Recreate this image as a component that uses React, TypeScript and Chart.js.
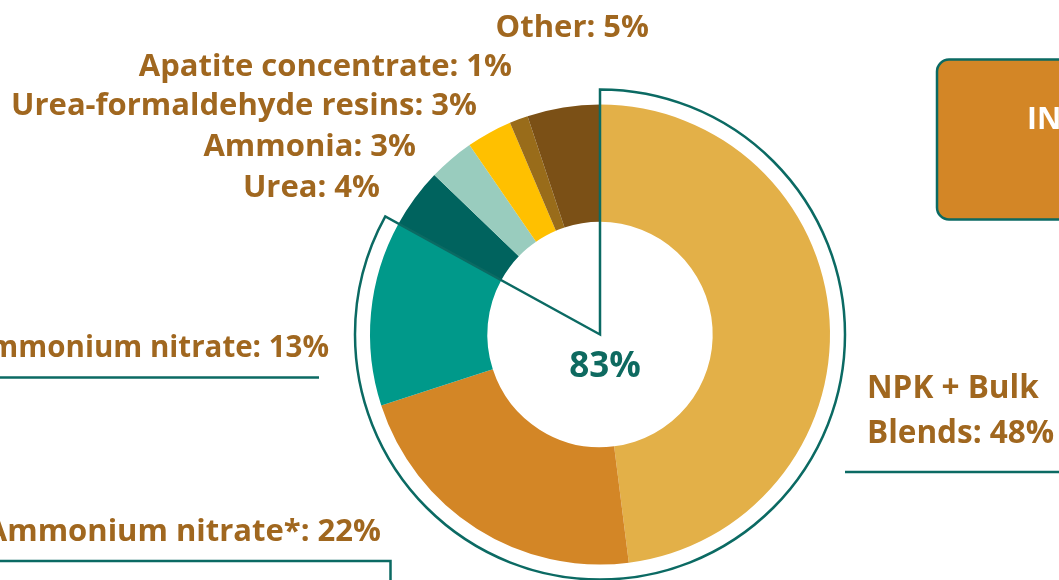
import React, { useEffect, useRef } from "react";
import { Chart, registerables } from "chart.js";

Chart.register(...registerables);

// ---- data ----
const categories = [
  "NPK + Bulk Blends",
  "Ammonium nitrate*",
  "Ammonium nitrate",
  "Urea",
  "Ammonia",
  "Urea-formaldehyde resins",
  "Apatite concentrate",
  "Other",
];
const shares = [48, 22, 13, 4.2, 3.2, 3.2, 1.3, 5.1];
const shareLabels = ["48%", "22%", "13%", "4%", "3%", "3%", "1%", "5%"];
const highlightCount = 3; // NPK + both ammonium nitrates
const centreLabel = "83%";
const boxLabel = "INDUSTRY";

// ---- style ----
const sliceColors = ["#E3B048", "#D38626", "#00998A", "#00635E", "#99CCBE", "#FFC000", "#996C1A", "#7B5016"];
const TEAL = "#0B6A63";
const BROWN = "#A0671F";
const FONT = "'Open Sans', Lato, sans-serif";

// label anchors (x, y baseline, alignment, font size)
const labelLayout = [
  { x: 867, y: 398, align: "left", size: 31.5, wrap: 3, lineGap: 45 },
  { x: 381, y: 541, align: "right", size: 31 },
  { x: 329, y: 357, align: "right", size: 29.5 },
  { x: 380, y: 197, align: "right", size: 31 },
  { x: 416, y: 156, align: "right", size: 31 },
  { x: 477, y: 115, align: "right", size: 31 },
  { x: 512, y: 76, align: "right", size: 31 },
  { x: 649, y: 37, align: "right", size: 31 },
];

const overlayPlugin = {
  id: "overlay",
  afterDatasetsDraw(chart: any) {
    const ctx: CanvasRenderingContext2D = chart.ctx;
    const arcs = chart.getDatasetMeta(0).data as any[];
    const first = arcs[0];
    const cx = first.x;
    const cy = first.y;
    const R = first.outerRadius + 15;
    const start = first.startAngle;
    const end = arcs[highlightCount - 1].endAngle;

    ctx.save();
    // highlighted wedge outline
    ctx.strokeStyle = TEAL;
    ctx.lineWidth = 2.5;
    ctx.lineJoin = "miter";
    ctx.beginPath();
    ctx.moveTo(cx, cy);
    ctx.arc(cx, cy, R, start, end);
    ctx.closePath();
    ctx.stroke();

    // centre label
    ctx.fillStyle = "#0E6A60";
    ctx.font = `bold 35px ${FONT}`;
    ctx.textAlign = "center";
    ctx.textBaseline = "alphabetic";
    ctx.fillText(centreLabel, cx + 5, cy + 42.5);

    // decorative leader lines
    ctx.lineWidth = 2.5;
    ctx.beginPath();
    ctx.moveTo(0, 377.5);
    ctx.lineTo(319, 377.5);
    ctx.stroke();
    ctx.beginPath();
    ctx.moveTo(0, 561);
    ctx.lineTo(390.5, 561);
    ctx.lineTo(390.5, 585);
    ctx.stroke();
    ctx.beginPath();
    ctx.moveTo(845, 472);
    ctx.lineTo(1065, 472);
    ctx.stroke();

    // top-right box
    const bx = 937, by = 59.5, bw = 220, bh = 160, r = 12;
    ctx.beginPath();
    ctx.moveTo(bx + r, by);
    ctx.lineTo(bx + bw, by);
    ctx.lineTo(bx + bw, by + bh);
    ctx.lineTo(bx + r, by + bh);
    ctx.arcTo(bx, by + bh, bx, by + bh - r, r);
    ctx.lineTo(bx, by + r);
    ctx.arcTo(bx, by, bx + r, by, r);
    ctx.closePath();
    ctx.fillStyle = "#D38626";
    ctx.fill();
    ctx.stroke();
    ctx.fillStyle = "#FFFFFF";
    ctx.font = `bold 30px ${FONT}`;
    ctx.textAlign = "left";
    ctx.fillText(boxLabel, 1027, 129);

    // category labels
    ctx.fillStyle = BROWN;
    categories.forEach((cat, i) => {
      const L: any = labelLayout[i];
      const full = `${cat}: ${shareLabels[i]}`;
      let lines = [full];
      if (L.wrap) {
        const words = full.split(" ");
        lines = [words.slice(0, L.wrap).join(" "), words.slice(L.wrap).join(" ")];
      }
      ctx.font = `bold ${L.size}px ${FONT}`;
      ctx.textAlign = L.align;
      lines.forEach((t, k) => ctx.fillText(t, L.x, L.y + k * (L.lineGap || 0)));
    });
    ctx.restore();
  },
};

export default function App() {
  const ref = useRef<HTMLCanvasElement | null>(null);
  useEffect(() => {
    if (!ref.current) return;
    const chart = new Chart(ref.current, {
      type: "doughnut",
      data: {
        labels: categories,
        datasets: [
          {
            data: shares,
            backgroundColor: sliceColors,
            borderWidth: 0,
          },
        ],
      },
      options: {
        responsive: false,
        animation: false,
        radius: 230,
        cutout: "49%",
        rotation: 0,
        layout: { padding: { left: 141, right: 0, top: 89, bottom: 0 } },
        plugins: { legend: { display: false }, tooltip: { enabled: false } },
      } as any,
      plugins: [overlayPlugin],
    });
    return () => chart.destroy();
  }, []);
  return (
    <div style={{ position: "fixed", left: 0, top: 0, width: 1059, height: 580, background: "#fff" }}>
      <canvas ref={ref} width={1059} height={580} style={{ display: "block" }} />
    </div>
  );
}
